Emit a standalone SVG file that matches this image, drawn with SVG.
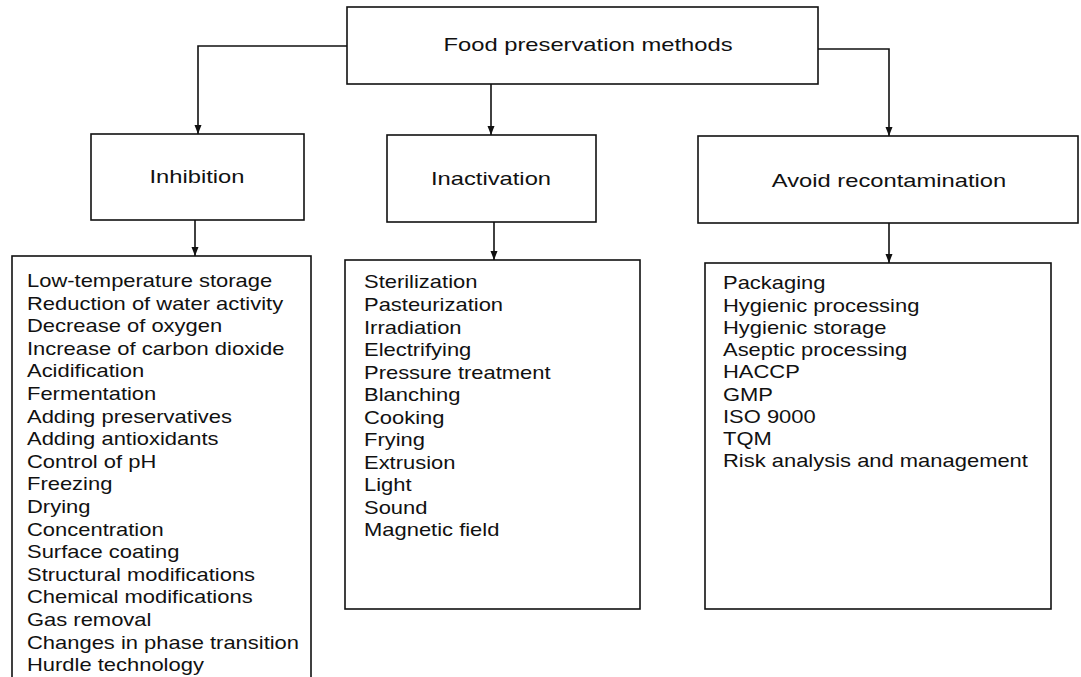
<svg xmlns="http://www.w3.org/2000/svg" width="1081" height="677" viewBox="0 0 1081 677">
<style>
.box{fill:#fff;stroke:#111;stroke-width:1.6}
.con{fill:none;stroke:#111;stroke-width:1.6}
.hd{font-family:"Liberation Sans",Arial,sans-serif;font-size:19px;fill:#111;text-anchor:middle}
.it{font-family:"Liberation Sans",Arial,sans-serif;font-size:18px;fill:#111}
</style>
<defs>
<marker id="ah" markerUnits="userSpaceOnUse" markerWidth="10" markerHeight="8" refX="9" refY="3.5" orient="auto">
<path d="M0,0 L9,3.5 L0,7 z" fill="#111"/>
</marker>
</defs>
<rect width="1081" height="677" fill="#fff"/>
<g id="connectors">
<path class="con" d="M347,46 H198 V134" marker-end="url(#ah)"/>
<path class="con" d="M491,84 V135" marker-end="url(#ah)"/>
<path class="con" d="M818,49 H889 V136" marker-end="url(#ah)"/>
<path class="con" d="M195,220 V256" marker-end="url(#ah)"/>
<path class="con" d="M494,222 V260" marker-end="url(#ah)"/>
<path class="con" d="M889,223 V263" marker-end="url(#ah)"/>
</g>
<g id="root">
<rect class="box" x="347" y="7" width="471" height="77"/>
<text class="hd" transform="translate(588 51) scale(1.25 1)">Food preservation methods</text>
</g>
<g id="inhibition">
<rect class="box" x="91" y="134" width="213" height="86"/>
<text class="hd" transform="translate(197 183) scale(1.25 1)">Inhibition</text>
</g>
<g id="inactivation">
<rect class="box" x="387" y="135" width="209" height="87"/>
<text class="hd" transform="translate(491 185) scale(1.25 1)">Inactivation</text>
</g>
<g id="avoid">
<rect class="box" x="698" y="136" width="380" height="87"/>
<text class="hd" transform="translate(889 187) scale(1.25 1)">Avoid recontamination</text>
</g>
<g id="inhibition-list">
<rect class="box" x="12" y="256" width="299" height="430"/>
<g transform="translate(27 0) scale(1.22 1)">
<text class="it" x="0" y="287">Low-temperature storage</text>
<text class="it" x="0" y="309.6">Reduction of water activity</text>
<text class="it" x="0" y="332.2">Decrease of oxygen</text>
<text class="it" x="0" y="354.8">Increase of carbon dioxide</text>
<text class="it" x="0" y="377.4">Acidification</text>
<text class="it" x="0" y="400">Fermentation</text>
<text class="it" x="0" y="422.6">Adding preservatives</text>
<text class="it" x="0" y="445.2">Adding antioxidants</text>
<text class="it" x="0" y="467.8">Control of pH</text>
<text class="it" x="0" y="490.4">Freezing</text>
<text class="it" x="0" y="513">Drying</text>
<text class="it" x="0" y="535.6">Concentration</text>
<text class="it" x="0" y="558.2">Surface coating</text>
<text class="it" x="0" y="580.8">Structural modifications</text>
<text class="it" x="0" y="603.4">Chemical modifications</text>
<text class="it" x="0" y="626">Gas removal</text>
<text class="it" x="0" y="648.6">Changes in phase transition</text>
<text class="it" x="0" y="671.2">Hurdle technology</text>
</g>
</g>
<g id="inactivation-list">
<rect class="box" x="345" y="260" width="295" height="349"/>
<g transform="translate(364 0) scale(1.22 1)">
<text class="it" x="0" y="288.5">Sterilization</text>
<text class="it" x="0" y="311">Pasteurization</text>
<text class="it" x="0" y="333.6">Irradiation</text>
<text class="it" x="0" y="356.1">Electrifying</text>
<text class="it" x="0" y="378.7">Pressure treatment</text>
<text class="it" x="0" y="401.2">Blanching</text>
<text class="it" x="0" y="423.8">Cooking</text>
<text class="it" x="0" y="446.3">Frying</text>
<text class="it" x="0" y="468.9">Extrusion</text>
<text class="it" x="0" y="491.4">Light</text>
<text class="it" x="0" y="514">Sound</text>
<text class="it" x="0" y="536.5">Magnetic field</text>
</g>
</g>
<g id="avoid-list">
<rect class="box" x="705" y="263" width="346" height="346"/>
<g transform="translate(723 0) scale(1.22 1)">
<text class="it" x="0" y="289.5">Packaging</text>
<text class="it" x="0" y="311.8">Hygienic processing</text>
<text class="it" x="0" y="334">Hygienic storage</text>
<text class="it" x="0" y="356.3">Aseptic processing</text>
<text class="it" x="0" y="378.5">HACCP</text>
<text class="it" x="0" y="400.8">GMP</text>
<text class="it" x="0" y="423">ISO 9000</text>
<text class="it" x="0" y="445.3">TQM</text>
<text class="it" x="0" y="467.5">Risk analysis and management</text>
</g>
</g>
</svg>
